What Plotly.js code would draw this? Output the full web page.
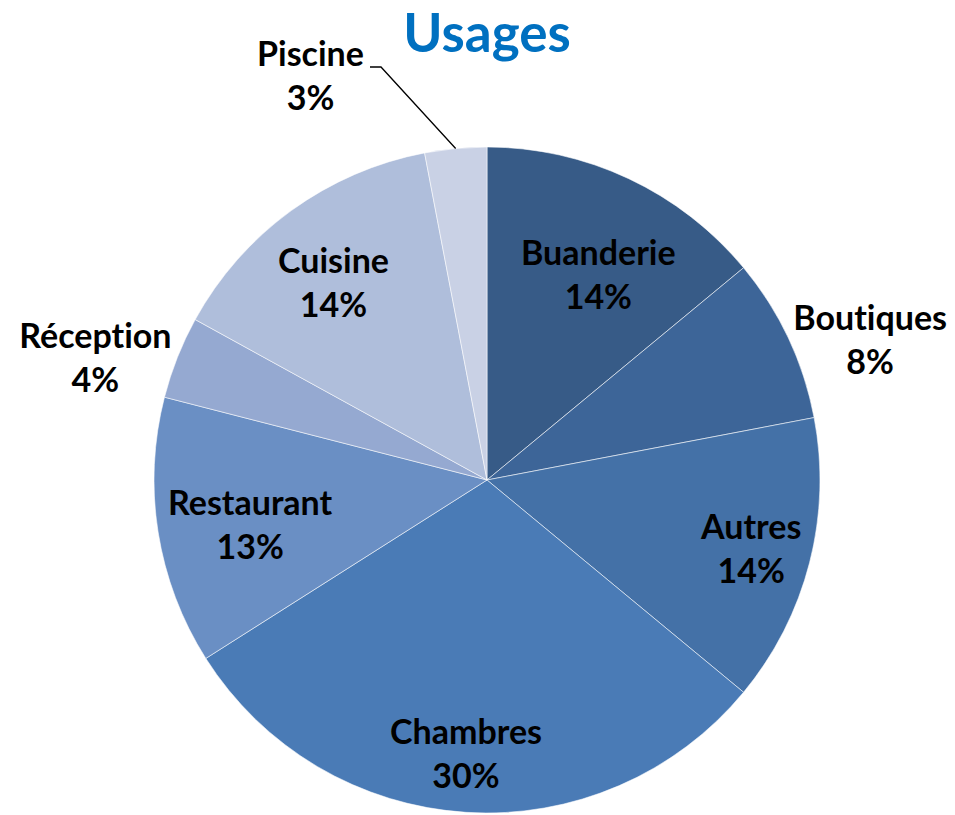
<!DOCTYPE html>
<html>
<head>
<meta charset="utf-8">
<script src="https://cdn.plot.ly/plotly-3.0.1.min.js"></script>
<style>html,body{margin:0;padding:0;background:#fff}#chart{width:955px;height:815px}
#chart text{font-variant-ligatures:none;font-feature-settings:"liga" 0,"clig" 0}</style>
</head>
<body>
<div id="chart"></div>
<script>
// ---- data ----
var categories = ["Buanderie", "Boutiques", "Autres", "Chambres", "Restaurant", "Réception", "Cuisine", "Piscine"];
var values = [14, 8, 14, 30, 13, 4, 14, 3];
var colors = ["#375B87", "#3D6598", "#4471A7", "#4A7BB6", "#6A8FC4", "#95A9D1", "#AFBEDB", "#C9D1E5"];

// ---- label placement (styling: distance from centre in px, angle offset in degrees) ----
var labelDist = [235, 408, 272, 273, 241, 410, 251, 442];
var labelAngOff = [3.2, 4.9, 0, 0.8, -1.5, -4.1, -1.6, -18.2];

var W = 955, H = 815;
var cx = 487, cy = 480, R = 333;

var total = values.reduce(function (a, b) { return a + b; }, 0);
var annotations = [];
var cum = 0;
var midAngles = [];
for (var i = 0; i < values.length; i++) {
  var mid = (cum + values[i] / 2) / total * 360;
  midAngles.push(mid);
  cum += values[i];
  var a = (mid + labelAngOff[i]) * Math.PI / 180;
  var px = cx + labelDist[i] * Math.sin(a);
  var py = cy - labelDist[i] * Math.cos(a);
  var pct = Math.round(values[i] / total * 100) + "%";
  annotations.push({
    x: px / W, y: 1 - py / H, xref: "paper", yref: "paper",
    text: "<b>" + categories[i] + "</b><br><b>" + pct + "</b>",
    showarrow: false, xanchor: "center", yanchor: "middle",
    font: { family: "Lato, 'Open Sans', sans-serif", size: 34, color: "#000" },
    align: "center"
  });
}

// leader line for the last (smallest) slice
var last = values.length - 1;
var am = midAngles[last] * Math.PI / 180;
var ex = cx + R * Math.sin(am), ey = cy - R * Math.cos(am);
function P(x, y) { return (x / W).toFixed(5) + "," + (1 - y / H).toFixed(5); }
var shapes = [{
  type: "path", xref: "paper", yref: "paper",
  path: "M" + P(370, 67) + " L" + P(381, 67) + " L" + P(ex, ey),
  line: { color: "#000", width: 1.3 }
}];

var trace = {
  type: "pie",
  labels: categories,
  values: values,
  sort: false,
  direction: "clockwise",
  rotation: 0,
  textinfo: "none",
  hoverinfo: "label+percent",
  marker: { colors: colors, line: { color: "rgba(255,255,255,0.55)", width: 1 } },
  domain: { x: [(cx - R) / W, (cx + R) / W], y: [1 - (cy + R) / H, 1 - (cy - R) / H] },
  showlegend: false
};

var layout = {
  width: W, height: H,
  margin: { l: 0, r: 0, t: 0, b: 0 },
  paper_bgcolor: "#fff",
  showlegend: false,
  title: {
    text: "<b>Usages</b>",
    font: { family: "Lato, 'Open Sans', sans-serif", size: 53, color: "#0070C0" },
    x: 487 / W, xanchor: "center", y: 1 - 33 / H, yanchor: "middle", xref: "paper", yref: "container"
  },
  annotations: annotations,
  shapes: shapes
};

Plotly.newPlot("chart", [trace], layout, { displayModeBar: false, staticPlot: true });
</script>
</body>
</html>
